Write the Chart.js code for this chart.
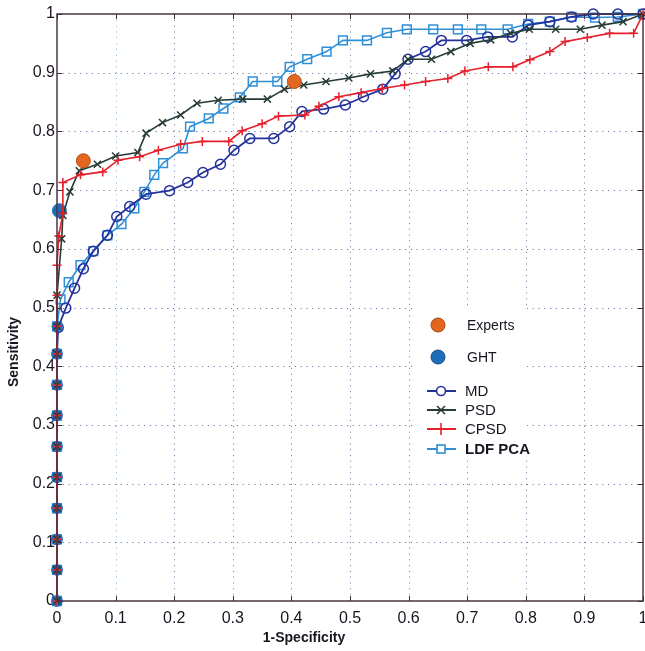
<!DOCTYPE html>
<html>
<head>
<meta charset="utf-8">
<style>
html,body{margin:0;padding:0;background:#fff;}
#wrap{width:645px;height:651px;}
</style>
<script src="https://cdn.jsdelivr.net/npm/chart.js@4"></script>
</head>
<body>
<div id="wrap"><canvas id="c" width="645" height="651"></canvas></div>
<script>
const tickLabels = ['0','0.1','0.2','0.3','0.4','0.5','0.6','0.7','0.8','0.9','1'];
const gridValues = [0.1,0.2,0.3,0.4,0.5,0.6,0.7,0.8,0.9];
const xTitle = '1-Specificity';
const yTitle = 'Sensitivity';

const mdX = [0,0,0,0,0,0,0,0,0,0.002,0.015,0.030,0.045,0.062,0.086,0.102,0.124,0.152,0.192,0.223,0.249,0.279,0.302,0.329,0.370,0.397,0.418,0.455,0.492,0.523,0.556,0.577,0.599,0.629,0.656,0.699,0.735,0.777,0.804,0.841,0.878,0.915,0.957,1.0];
const mdY = [0,0.053,0.105,0.158,0.211,0.263,0.316,0.368,0.421,0.466,0.499,0.533,0.566,0.596,0.623,0.655,0.672,0.693,0.699,0.713,0.730,0.744,0.768,0.788,0.788,0.808,0.834,0.838,0.845,0.859,0.872,0.898,0.923,0.936,0.955,0.955,0.961,0.961,0.981,0.987,0.995,1.0,1.0,1.0];

const psdX = [0,0,0,0,0,0,0,0,0,0,0,0.008,0.010,0.022,0.038,0.069,0.100,0.138,0.152,0.180,0.211,0.239,0.275,0.317,0.359,0.388,0.421,0.459,0.498,0.535,0.573,0.599,0.639,0.672,0.705,0.740,0.774,0.806,0.851,0.893,0.930,0.966,1.0];
const psdY = [0,0.053,0.105,0.158,0.211,0.263,0.316,0.368,0.421,0.468,0.521,0.617,0.657,0.697,0.733,0.744,0.758,0.764,0.797,0.815,0.828,0.848,0.853,0.855,0.855,0.872,0.879,0.885,0.891,0.898,0.903,0.923,0.923,0.936,0.950,0.956,0.967,0.974,0.974,0.974,0.981,0.987,1.0];

const cpsdX = [0,0,0,0,0,0,0,0,0,0,0,0,0.003,0.010,0.010,0.040,0.078,0.104,0.141,0.173,0.211,0.248,0.293,0.316,0.350,0.378,0.423,0.447,0.481,0.519,0.555,0.593,0.629,0.667,0.696,0.736,0.778,0.807,0.841,0.867,0.905,0.943,0.984,1.0];
const cpsdY = [0,0.053,0.105,0.158,0.211,0.263,0.316,0.368,0.421,0.468,0.521,0.572,0.622,0.660,0.713,0.726,0.731,0.751,0.757,0.768,0.778,0.783,0.783,0.801,0.813,0.826,0.828,0.843,0.859,0.866,0.873,0.879,0.885,0.890,0.903,0.910,0.910,0.922,0.936,0.953,0.960,0.967,0.967,1.0];

const ldfX = [0,0,0,0,0,0,0,0,0,0,0.006,0.020,0.040,0.062,0.086,0.110,0.132,0.149,0.166,0.181,0.215,0.227,0.259,0.284,0.312,0.334,0.376,0.397,0.427,0.460,0.488,0.529,0.563,0.597,0.642,0.684,0.724,0.769,0.804,0.841,0.878,0.918,0.957,1.0];
const ldfY = [0,0.053,0.105,0.158,0.211,0.263,0.316,0.368,0.421,0.468,0.514,0.543,0.572,0.596,0.623,0.642,0.669,0.697,0.726,0.746,0.771,0.808,0.822,0.839,0.858,0.885,0.885,0.910,0.923,0.936,0.955,0.955,0.968,0.974,0.974,0.974,0.974,0.974,0.983,0.987,0.995,0.994,0.995,1.0];

const ghtX = [0,0,0,0,0,0,0,0,0,0,0.004];
const ghtY = [0,0.053,0.105,0.158,0.211,0.263,0.316,0.368,0.421,0.468,0.665];

const expertsX = [0.045,0.405];
const expertsY = [0.750,0.885];

const seriesNames = ['Experts','GHT','MD','PSD','CPSD','LDF PCA'];

const C_MD = '#24329c', C_PSD = '#263c34', C_CPSD = '#e6202c', C_LDF = '#2f8fd6';
const C_EXP = '#e2661e', C_GHT = '#1f6db6';

const pts = (xs, ys) => xs.map((x, i) => ({x: x, y: ys[i]}));

const FONT = "'Liberation Sans', Arial, sans-serif";

const framePlugin = {
  id: 'matlabFrame',
  beforeDatasetsDraw(chart) {
    const {ctx, chartArea: a, scales: {x, y}} = chart;
    ctx.save();
    ctx.lineWidth = 1;
    ctx.setLineDash([1.2, 4.6]);
    gridValues.forEach(v => {
      const px = Math.round(x.getPixelForValue(v)) + 0.5;
      ctx.strokeStyle = (Math.abs(v - 0.1) < 1e-9) ? '#8cc0ea' : '#7f8cb4';
      ctx.beginPath(); ctx.moveTo(px, a.top); ctx.lineTo(px, a.bottom); ctx.stroke();
      const py = Math.round(y.getPixelForValue(v)) + 0.5;
      ctx.strokeStyle = '#6f7ba6';
      ctx.beginPath(); ctx.moveTo(a.left, py); ctx.lineTo(a.right, py); ctx.stroke();
    });
    ctx.setLineDash([]);
    // legend background
    ctx.fillStyle = '#fff';
    ctx.fillRect(413, 308, 114, 152);
    ctx.restore();
  },
  afterDatasetsDraw(chart) {
    const {ctx, chartArea: a, scales: {x, y}} = chart;
    ctx.save();
    // box
    ctx.strokeStyle = '#4a3646';
    ctx.lineWidth = 1.5;
    ctx.strokeRect(a.left, a.top, a.right - a.left, a.bottom - a.top);
    // inward ticks
    ctx.lineWidth = 1;
    ctx.strokeStyle = '#3a2c38';
    const tl = 5;
    for (let i = 0; i < tickLabels.length; i++) {
      const v = i / 10;
      const px = Math.round(x.getPixelForValue(v)) + 0.5;
      ctx.beginPath();
      ctx.moveTo(px, a.bottom); ctx.lineTo(px, a.bottom - tl);
      ctx.moveTo(px, a.top); ctx.lineTo(px, a.top + tl);
      ctx.stroke();
      const py = Math.round(y.getPixelForValue(v)) + 0.5;
      ctx.beginPath();
      ctx.moveTo(a.left, py); ctx.lineTo(a.left + tl, py);
      ctx.moveTo(a.right, py); ctx.lineTo(a.right - tl, py);
      ctx.stroke();
    }
    // legend
    const circ = (cx, cy, r, fill, stroke) => {
      ctx.beginPath(); ctx.arc(cx, cy, r, 0, Math.PI * 2);
      ctx.fillStyle = fill; ctx.fill();
      ctx.lineWidth = 1; ctx.strokeStyle = stroke; ctx.stroke();
    };
    ctx.textBaseline = 'middle';
    ctx.textAlign = 'left';
    circ(438, 325, 7, C_EXP, '#a8470f');
    ctx.fillStyle = '#1a1420';
    ctx.font = '14px ' + FONT;
    ctx.fillText(seriesNames[0], 467, 326);
    circ(438, 357, 7, C_GHT, '#164f8a');
    ctx.fillStyle = '#1a1420';
    ctx.fillText(seriesNames[1], 467, 358);
    const rows = [
      {name: seriesNames[2], y: 391, c: C_MD, m: 'circle'},
      {name: seriesNames[3], y: 410, c: C_PSD, m: 'x'},
      {name: seriesNames[4], y: 429, c: C_CPSD, m: '+'},
      {name: seriesNames[5], y: 449, c: C_LDF, m: 'sq', bold: true}
    ];
    rows.forEach(r => {
      ctx.strokeStyle = r.c; ctx.lineWidth = 2;
      ctx.beginPath(); ctx.moveTo(427, r.y); ctx.lineTo(456, r.y); ctx.stroke();
      ctx.lineWidth = 1.6;
      ctx.beginPath();
      if (r.m === 'circle') { ctx.fillStyle = '#fff'; ctx.arc(441, r.y, 4.5, 0, Math.PI*2); ctx.fill(); ctx.stroke(); }
      else if (r.m === 'x') { ctx.moveTo(437, r.y-4); ctx.lineTo(445, r.y+4); ctx.moveTo(445, r.y-4); ctx.lineTo(437, r.y+4); ctx.stroke(); }
      else if (r.m === '+') { ctx.moveTo(441, r.y-6); ctx.lineTo(441, r.y+6); ctx.stroke(); }
      else { ctx.fillStyle = '#fff'; ctx.fillRect(437, r.y-4, 8, 8); ctx.strokeRect(437, r.y-4, 8, 8); }
      ctx.fillStyle = '#1a1420';
      ctx.font = (r.bold ? 'bold ' : '') + '15px ' + FONT;
      ctx.fillText(r.name, 465, r.y + 1);
    });
    // axis titles
    ctx.fillStyle = '#1a1420';
    ctx.font = 'bold 14px ' + FONT;
    ctx.textAlign = 'center';
    ctx.fillText(xTitle, 304, 638);
    ctx.save();
    ctx.translate(14, 352);
    ctx.rotate(-Math.PI / 2);
    ctx.fillText(yTitle, 0, 0);
    ctx.restore();
    ctx.restore();
  }
};

const lineDs = (label, xs, ys, color, style, radius, width) => ({
  label: label,
  data: pts(xs, ys),
  showLine: true,
  clip: false,
  borderColor: color,
  backgroundColor: 'rgba(0,0,0,0)',
  pointBorderColor: color,
  pointBackgroundColor: 'rgba(0,0,0,0)',
  pointStyle: style,
  pointRadius: radius,
  pointBorderWidth: 1.5,
  borderWidth: width,
  tension: 0
});

new Chart(document.getElementById('c'), {
  type: 'scatter',
  data: {
    datasets: [
      {
        label: seriesNames[0], data: pts(expertsX, expertsY), showLine: false, clip: false,
        pointStyle: 'circle', pointRadius: 7, pointBackgroundColor: C_EXP,
        pointBorderColor: '#b5501a', pointBorderWidth: 1
      },
      lineDs(seriesNames[4], cpsdX, cpsdY, C_CPSD, 'cross', 4.5, 1.6),
      lineDs(seriesNames[3], psdX, psdY, C_PSD, 'crossRot', 5, 1.6),
      {
        label: seriesNames[1], data: pts(ghtX, ghtY), showLine: false, clip: false,
        pointStyle: 'circle',
        pointRadius: ctx => (ctx.dataIndex === ghtX.length - 1 ? 7 : 5),
        pointBackgroundColor: C_GHT, pointBorderColor: '#2a7cc4', pointBorderWidth: 1
      },
      lineDs(seriesNames[2], mdX, mdY, C_MD, 'circle', 5, 1.8),
      lineDs(seriesNames[5], ldfX, ldfY, C_LDF, 'rect', 6.2, 1.6)
    ]
  },
  options: {
    responsive: false,
    animation: false,
    devicePixelRatio: 1,
    layout: {autoPadding: false, padding: {top: 14, right: 2, left: 0, bottom: 0}},
    plugins: {legend: {display: false}, tooltip: {enabled: false}},
    scales: {
      x: {
        type: 'linear', min: 0, max: 1,
        grid: {display: false, drawTicks: false},
        border: {display: false},
        ticks: {
          stepSize: 0.1, padding: 8, color: '#1a1420', maxRotation: 0, autoSkip: false,
          font: {family: FONT, size: 16},
          callback: (v, i) => tickLabels[i]
        },
        afterFit: s => { s.height = 50; s.paddingLeft = 0; s.paddingRight = 0; }
      },
      y: {
        type: 'linear', min: 0, max: 1,
        grid: {display: false, drawTicks: false},
        border: {display: false},
        ticks: {
          stepSize: 0.1, padding: 2, color: '#1a1420', autoSkip: false,
          font: {family: FONT, size: 16},
          callback: (v, i) => tickLabels[i]
        },
        afterFit: s => { s.width = 57; s.paddingTop = 0; s.paddingBottom = 0; }
      }
    }
  },
  plugins: [framePlugin]
});
</script>
</body>
</html>
